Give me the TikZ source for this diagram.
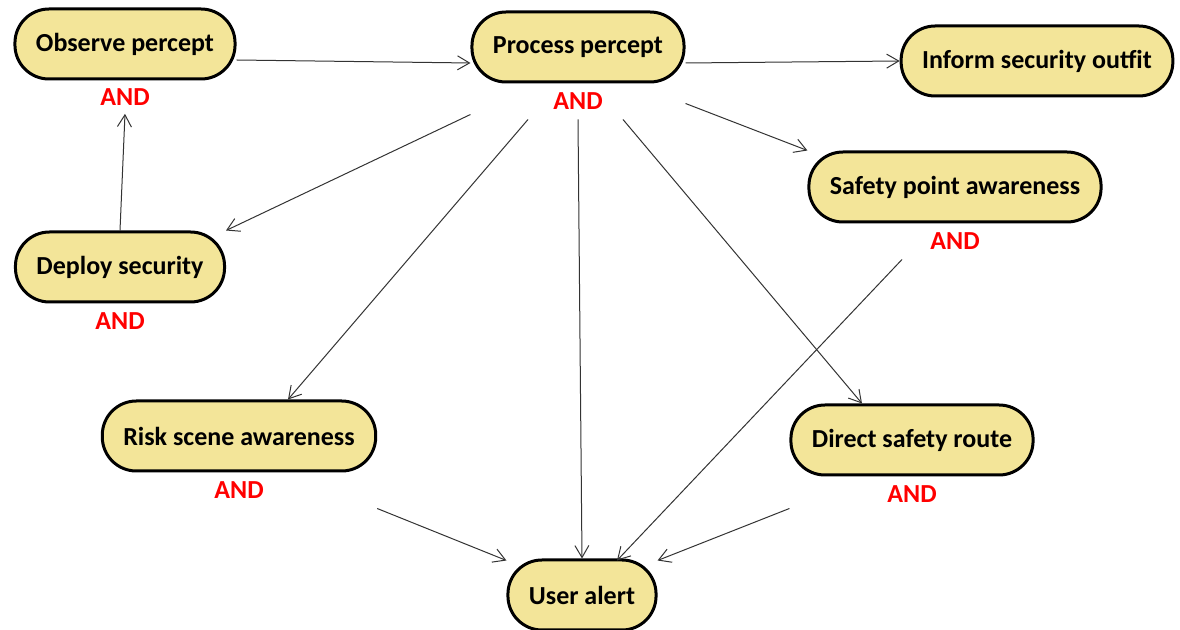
\documentclass[tikz,border=0pt]{standalone}
\usepackage{fontspec}
\setmainfont{Carlito}
\usetikzlibrary{arrows.meta}
\definecolor{goalfill}{RGB}{243,229,153}
\definecolor{andred}{RGB}{255,0,0}
\tikzset{
    % goal box style
    goal/.style = {draw, line width=1.5pt, fill=goalfill, rectangle, rounded corners=17pt,
        minimum height=35pt, inner xsep=10.5pt, font=\fontsize{13}{15}\selectfont\bfseries},
    % AND label style
    andlbl/.style = {text=andred, inner sep=1pt, font=\fontsize{13}{15}\selectfont\bfseries},
    % connector style
    link/.style = {-{Straight Barb[length=6pt, width=7pt]}, line width=0.5pt, draw=black!80}
}
\begin{document}
\begin{tikzpicture}[x=0.5pt, y=-0.5pt]
        \useasboundingbox (0,0) rectangle (1180,630);
        % goals
        \node[goal] (op) at (125,44) {Observe percept};
        \node[goal] (pp) at (578,47) {Process percept};
        \node[goal] (isf) at (1037,61) {Inform security outfit};
        \node[goal] (spa) at (955,187) {Safety point awareness};
        \node[goal] (dsec) at (120,267) {Deploy security};
        \node[goal] (rsa) at (239,436) {Risk scene awareness};
        \node[goal] (dsr) at (912,440) {Direct safety route};
        \node[goal] (ua) at (582,595) {User alert};
        % AND labels
        \node[andlbl] (op-and) at (125,97) {AND};
        \node[andlbl] (pp-and) at (578,101) {AND};
        \node[andlbl] (spa-and) at (955,241) {AND};
        \node[andlbl] (dsec-and) at (120,321) {AND};
        \node[andlbl] (rsa-and) at (239,490) {AND};
        \node[andlbl] (dsr-and) at (912,494) {AND};
        % links
        \draw[link] ([yshift=-8pt]op.east) -- ([yshift=-8pt]pp.west);
        \draw[link] (dsec.north) -- ([yshift=-3pt]op-and.south);
        \draw[link] ([yshift=-8pt]pp.east) -- (isf.west);
        \draw[link] ([yshift=-10pt]pp.south east) -- (spa.north west);
        \draw[link] ([yshift=-15.5pt]pp.south west) -- (dsec.north east);
        \draw[link] ([xshift=-25pt, yshift=-18pt]pp.south) -- ([xshift=24.5pt]rsa.north);
        \draw[link] ([yshift=-18pt]pp.south) -- (ua.north);
        \draw[link] ([xshift=22.5pt, yshift=-18pt]pp.south) -- ([xshift=-25pt]dsr.north);
        \draw[link] ([xshift=-26.5pt, yshift=-18pt]spa.south) -- ([xshift=17.5pt, yshift=-1pt]ua.north);
        \draw[link] ([yshift=-18pt]rsa.south east) -- ([yshift=-1pt]ua.north west);
        \draw[link] ([yshift=-16pt]dsr.south west) -- ([yshift=-1pt]ua.north east);
    \end{tikzpicture}
\end{document}
